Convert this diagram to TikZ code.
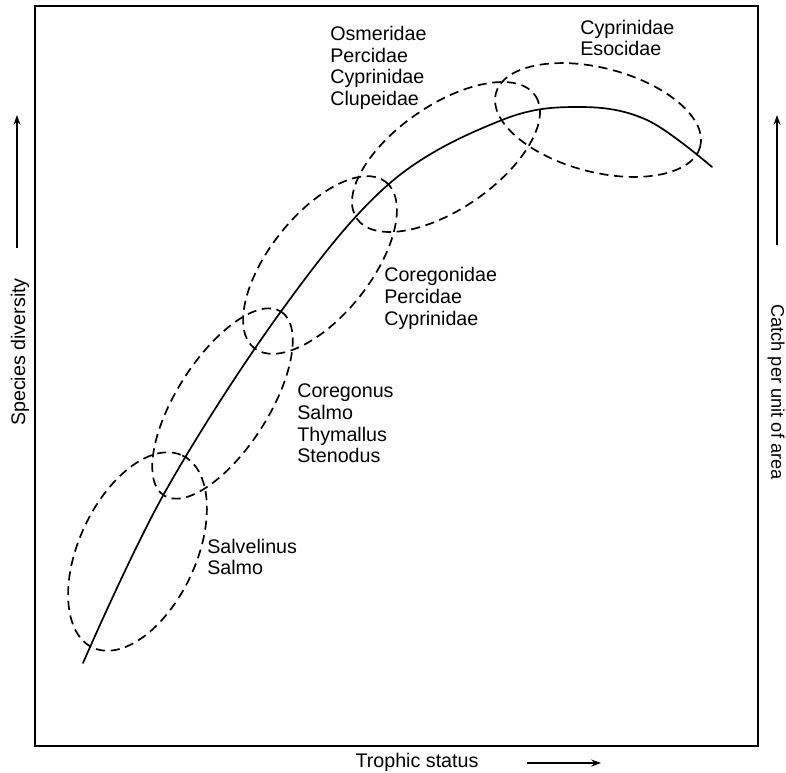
\documentclass[tikz,border=0pt]{standalone}
\usepackage{fontspec}
\setmainfont{Liberation Sans}
\usetikzlibrary{arrows.meta}
\tikzset{
  frameline/.style={line width=0.8pt},
  zone/.style={line width=1.2pt, dash pattern=on 6.5pt off 4pt},
  trend/.style={line width=1.2pt, line cap=round},
  axarrow/.style={line width=0.8pt, -{Stealth[length=7pt,width=5pt,inset=2.5pt]}},
  lbl/.style={anchor=west, align=left, inner sep=0pt, font=\fontsize{14}{15.5}\selectfont},
  axlbl/.style={inner sep=0pt, font=\fontsize{14}{15.5}\selectfont}
}
\begin{document}
\begin{tikzpicture}[x=0.025cm, y=-0.025cm]
\useasboundingbox (0,0) rectangle (786,772);
% frame
\draw[frameline] (35,6) rectangle (758,746);
% trend curve
\draw[trend] plot[smooth, tension=0.6] coordinates {(83,663) (165,492) (282,310) (390,183) (502,120) (580,107) (647,120) (712,167)};
% ellipses
\draw[zone, rotate around={65:(137.5,551.5)}] (137.5,551.5) ellipse [x radius=106, y radius=58.5];
\draw[zone, rotate around={57.5:(222.5,403.5)}] (222.5,403.5) ellipse [x radius=109, y radius=46];
\draw[zone, rotate around={51.6:(320,265)}] (320,265) ellipse [x radius=106, y radius=50.7];
\draw[zone, rotate around={34.6:(446,157)}] (446,157) ellipse [x radius=108.4, y radius=52];
\draw[zone, rotate around={-14.6:(598,120)}] (598,120) ellipse [x radius=105.6, y radius=52];
% labels
\node[lbl] (g1) at (207,557) {Salvelinus\\Salmo};
\node[lbl] (g2) at (297,423.5) {Coregonus\\Salmo\\Thymallus\\Stenodus};
\node[lbl] (g3) at (384,298.5) {Coregonidae\\Percidae\\Cyprinidae};
\node[lbl] (g4) at (330,68) {Osmeridae\\Percidae\\Cyprinidae\\Clupeidae};
\node[lbl] (g5) at (580,38) {Cyprinidae\\Esocidae};
% axes labels
\node[axlbl, rotate=90] (ylab) at (20,352) {Species diversity};
\coordinate (ya0) at (17,248);
\coordinate (ya1) at (17,115);
\draw[axarrow] (ya0) -- (ya1);
\node[axlbl, rotate=-90, font=\fontsize{13}{15}\selectfont] (zlab) at (776,392) {Catch per unit of area};
\coordinate (za0) at (777,245);
\coordinate (za1) at (777,115);
\draw[axarrow] (za0) -- (za1);
\node[axlbl] (xlab) at (417,762) {Trophic status};
\coordinate (xa0) at (527,763);
\coordinate (xa1) at (601,763);
\draw[axarrow] (xa0) -- (xa1);
\end{tikzpicture}
\end{document}
